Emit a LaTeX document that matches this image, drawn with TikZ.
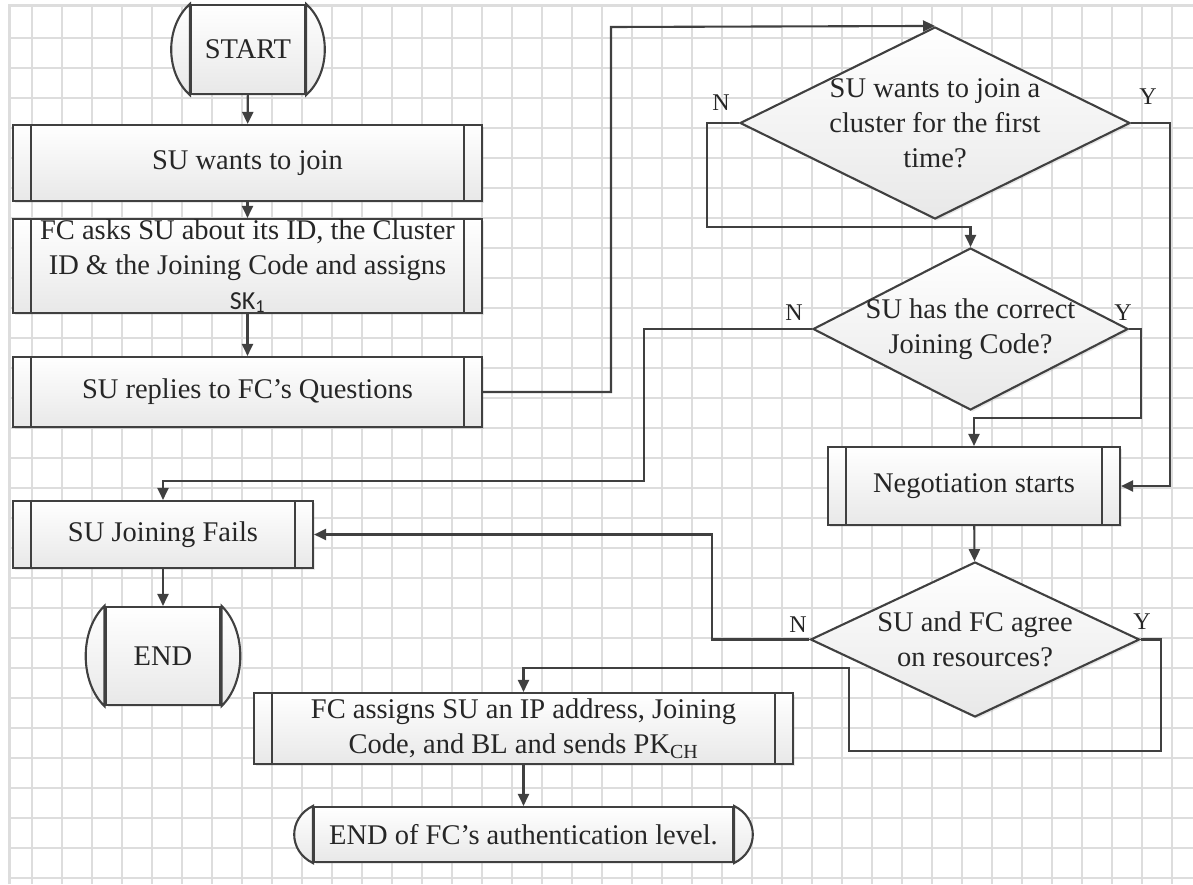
\documentclass[tikz,border=0pt]{standalone}
\usepackage{fontspec}
\setmainfont{Liberation Serif}
\newfontfamily\calfont{Carlito}
\usetikzlibrary{arrows.meta,shapes.geometric,shadows}
\definecolor{lineclr}{HTML}{404040}
\definecolor{gridclr}{HTML}{DDDDDD}

% rounded caps on both sides of a terminator node
\newcommand\termcaps[2]{%
  \path[ln, top color=white, bottom color=black!9]
    (#1.north west) .. controls +(-25,#2) and +(-25,-#2) .. (#1.south west) -- cycle;
  \path[ln, top color=white, bottom color=black!9]
    (#1.north east) .. controls +(25,#2) and +(25,-#2) .. (#1.south east) -- cycle;}

\begin{document}
\begin{tikzpicture}[x=1pt,y=-1pt,
  ln/.style={draw=lineclr, line width=2.1pt},
  arr/.style={draw=lineclr, line width=2.1pt, -{Triangle[length=12pt,width=11pt]}},
  txt/.style={font=\fontsize{28.5}{35}\selectfont, align=center, text=black!85},
  base/.style={ln, txt, top color=white, bottom color=black!9, inner sep=0pt,
    drop shadow={opacity=.18, shadow xshift=2pt, shadow yshift=-2pt}},
  proc/.style={base, rectangle,
    path picture={\draw[lineclr, line width=2.1pt]
      ([xshift=18pt]path picture bounding box.north west) -- ([xshift=18pt]path picture bounding box.south west)
      ([xshift=-18pt]path picture bounding box.north east) -- ([xshift=-18pt]path picture bounding box.south east);}},
  term/.style={base, rectangle},
  decision/.style={base, diamond, inner sep=0pt},
  dtext/.style={txt},
  yn/.style={font=\fontsize{24}{28}\selectfont, inner sep=0pt, text=black!85},
  gridln/.style={draw=gridclr, line width=1.6pt},
]
\useasboundingbox (0,0) rectangle (1193,884);
\fill[white] (0,0) rectangle (1193,884);

% background grid
\foreach \gx in {32,62,...,1172} \draw[gridln] (\gx,5) -- (\gx,884);
\foreach \gy in {38,68,...,878} \draw[gridln] (9,\gy) -- (1193,\gy);
\draw[draw=gridclr, line width=3pt] (9,884) -- (9,5) -- (1193,5);

% left column
\node[term, minimum width=114pt, minimum height=89pt] (start) at (248,49.5) {START};
\termcaps{start}{22}
\node[proc, minimum width=469pt, minimum height=76pt] (wants) at (247.5,163) {SU wants to join};
\node[proc, minimum width=469pt, minimum height=94pt] (asks) at (247.5,266)
  {FC asks SU about its ID, the Cluster\\ID \& the Joining Code and assigns\\{\calfont\fontsize{26}{35}\selectfont SK\textsubscript{1}}};
\node[proc, minimum width=469pt, minimum height=70pt] (replies) at (247.5,392) {SU replies to FC’s Questions};
\node[proc, minimum width=300pt, minimum height=67pt] (fails) at (163,534.5) {SU Joining Fails};
\node[term, minimum width=115pt, minimum height=98pt] (end) at (163,656) {END};
\termcaps{end}{24}

% right column
\node[decision, minimum width=390pt, minimum height=192pt,
  label={[dtext]center:SU wants to join a\\cluster for the first\\time?}] (d1) at (935,123) {};
\node[decision, minimum width=315pt, minimum height=162pt,
  label={[dtext]center:SU has the correct\\Joining Code?}] (d2) at (970.5,329) {};
\node[proc, minimum width=292pt, minimum height=78pt] (neg) at (974,486) {Negotiation starts};
\node[decision, minimum width=329pt, minimum height=155pt,
  label={[dtext]center:SU and FC agree\\on resources?}] (d3) at (975,639.5) {};

% bottom
\node[proc, minimum width=539pt, minimum height=71pt] (assign) at (523.5,728.5)
  {FC assigns SU an IP address, Joining\\Code, and BL and sends PK\textsubscript{CH}};
\node[term, minimum width=419pt, minimum height=55pt] (endfc) at (523.5,834.5) {END of FC’s authentication level.};
\termcaps{endfc}{12}

% branch labels
\node[yn] (n1) at (721,103) {N};
\node[yn] (y1) at (1148,97) {Y};
\node[yn] (n2) at (794,313) {N};
\node[yn] (y2) at (1123,313) {Y};
\node[yn] (n3) at (798,625) {N};
\node[yn] (y3) at (1142,622) {Y};

% connectors
\draw[arr] (start) -- (wants);
\draw[arr] (wants) -- (asks);
\draw[arr] (asks) -- (replies);
\draw[arr] (replies.east) -| (611,27) -- (d1.north);
\draw[arr] (d1.west) -| (707,227) -| (d2.north);
\draw[arr] (d1.east) -| (1170,486) -- (neg.east);
\draw[arr] (d2.west) -| (644,481) -| (fails.north);
\draw[arr] (d2.east) -| (1141,418) -| (neg.north);
\draw[arr] (neg) -- (d3);
\draw[arr] (d3.west) -| (712,534.5) -- (fails.east);
\draw[arr] (d3.east) -| (1161,751) -| (849,668) -| (assign.north);
\draw[arr] (fails) -- (end);
\draw[arr] (assign) -- (endfc);
\end{tikzpicture}
\end{document}
